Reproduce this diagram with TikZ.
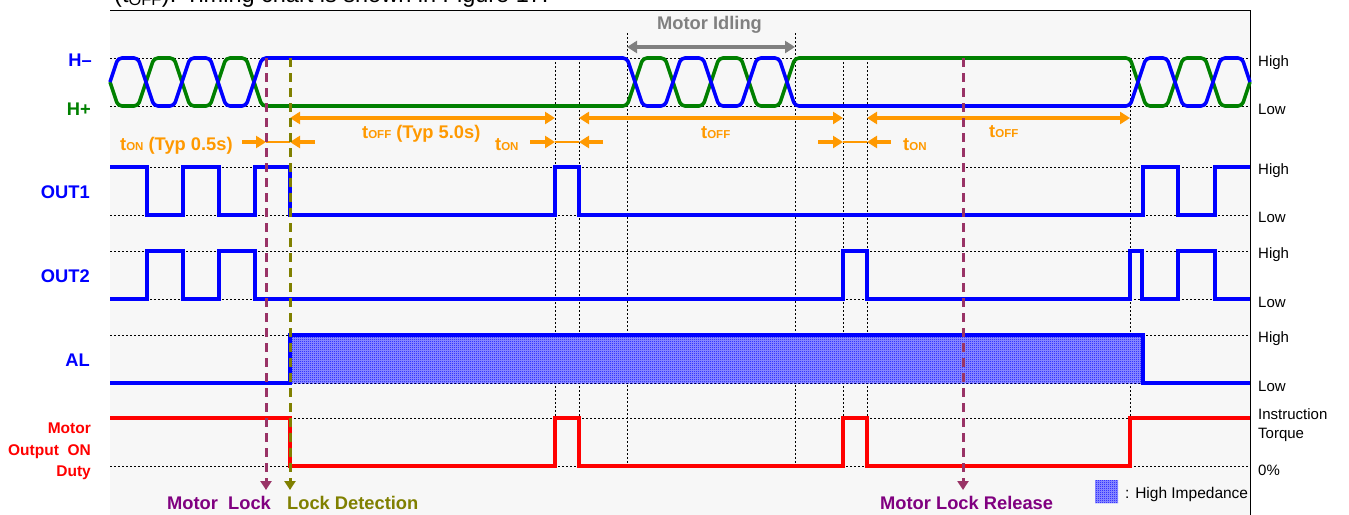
\documentclass[tikz,border=0pt]{standalone}
\usepackage{fontspec}
\setmainfont{Liberation Sans}
\usetikzlibrary{arrows.meta,patterns}
\definecolor{hallgreen}{RGB}{0,128,0}
\definecolor{tcol}{RGB}{255,153,0}
\definecolor{lockcol}{RGB}{153,51,102}
\definecolor{locktxt}{RGB}{128,0,128}
\definecolor{detcol}{RGB}{128,128,0}
\definecolor{idlecol}{RGB}{128,128,128}
\definecolor{panel}{RGB}{247,247,247}
% fine checker for the high impedance fill
\pgfdeclarepatternformonly{hiz}{\pgfpointorigin}{\pgfqpoint{2pt}{2pt}}{\pgfqpoint{2pt}{2pt}}{%
  \pgfpathrectangle{\pgfpointorigin}{\pgfqpoint{1pt}{1pt}}%
  \pgfpathrectangle{\pgfqpoint{1pt}{1pt}}{\pgfqpoint{1pt}{1pt}}%
  \pgfusepath{fill}}
\newcommand\tlab[1]{t{\fontsize{11.5}{11.5}\selectfont #1}}
\begin{document}
\begin{tikzpicture}[x=1pt,y=-1pt, every node/.style={inner sep=0pt,font=\bfseries\fontsize{18.3}{21.5}\selectfont}]
\tikzset{gridln/.style={black,line width=0.8pt,dash pattern=on 2.4pt off 1.6pt},
  sig/.style={line width=3.6pt},
  lvl/.style={anchor=base west,font=\fontsize{15}{19}\selectfont},
  hizfill/.style={fill=blue!40,postaction={pattern=hiz,pattern color=blue}},
  tline/.style={tcol,line width=4pt},
  tboth/.style={tline,{Triangle[length=10pt,width=12pt]}-{Triangle[length=10pt,width=12pt]}},
  tin/.style={tline,-{Triangle[length=10pt,width=12pt]}},
  lockln/.style={line width=3pt,dash pattern=on 9pt off 6pt,-{Triangle[length=9pt,width=11pt]}}}
\useasboundingbox (0,0) rectangle (1349,514);
\fill[panel] (110,10) rectangle (1250,520);
\draw[line width=0.9pt] (110,10) -- (1250,10) -- (1250,520);
\node[anchor=base west,font=\fontsize{23.5}{23.5}\selectfont] (caption) at (114,2) {(t\textsubscript{OFF}). Timing chart is shown in Figure 17.};
% time marks
\coordinate (lock) at (266,0);
\coordinate (det) at (290,0);
\coordinate (on1) at (555,0);
\coordinate (off1) at (579,0);
\coordinate (idA) at (627,0);
\coordinate (idB) at (795,0);
\coordinate (on2) at (843,0);
\coordinate (off2) at (867,0);
\coordinate (rel) at (963,0);
\coordinate (on3) at (1130,0);
% grid
\foreach \y in {58,106,167,215,251,299,335,383,418,466}
  \draw[gridln] (110,\y) -- (1250,\y);
\foreach \x in {555,579,843,867,1130}
  \draw[gridln] (\x,58) -- (\x,418);
\foreach \x in {627,795}
  \draw[gridln] (\x,33) -- (\x,466);
% hall signals
\draw[sig,hallgreen,rounded corners=4pt] (110,82) -- (118,106) -- (138,106) -- (154,58) -- (174,58) -- (190,106) -- (210,106) -- (226,58) -- (246,58) -- (262,106) -- (627,106) -- (643,58) -- (665,58) -- (681,106) -- (703,106) -- (719,58) -- (741,58) -- (757,106) -- (779,106) -- (795,58) -- (1130,58) -- (1146,106) -- (1167,106) -- (1183,58) -- (1205,58) -- (1221,106) -- (1242,106) -- (1250,82);
\draw[sig,blue,rounded corners=4pt] (110,82) -- (118,58) -- (138,58) -- (154,106) -- (174,106) -- (190,58) -- (210,58) -- (226,106) -- (246,106) -- (262,58) -- (627,58) -- (643,106) -- (665,106) -- (681,58) -- (703,58) -- (719,106) -- (741,106) -- (757,58) -- (779,58) -- (795,106) -- (1130,106) -- (1146,58) -- (1167,58) -- (1183,106) -- (1205,106) -- (1221,58) -- (1242,58) -- (1250,82);
\node[text=idlecol,anchor=base west] (idling) at (657,29) {Motor Idling};
\draw[idlecol,line width=4pt,{Triangle[length=10pt,width=12pt]}-{Triangle[length=10pt,width=12pt]}] (idA |- 0,47) -- (idB |- 0,47);
% on / off times
\draw[tboth] (det |- 0,118) -- (on1 |- 0,118);
\draw[tboth] (off1 |- 0,118) -- (on2 |- 0,118);
\draw[tboth] (off2 |- 0,118) -- (on3 |- 0,118);
\draw[tin] (242,142) -- (lock |- 0,142);
\draw[tcol,line width=1.6pt] (lock |- 0,142) -- (det |- 0,142);
\draw[tin] (315,142) -- (det |- 0,142);
\draw[tin] (530,142) -- (on1 |- 0,142);
\draw[tcol,line width=1.6pt] (on1 |- 0,142) -- (off1 |- 0,142);
\draw[tin] (603,142) -- (off1 |- 0,142);
\draw[tin] (818,142) -- (on2 |- 0,142);
\draw[tcol,line width=1.6pt] (on2 |- 0,142) -- (off2 |- 0,142);
\draw[tin] (891,142) -- (off2 |- 0,142);
\node[text=tcol,anchor=base west] (ton1) at (120,150) {\tlab{ON} (Typ 0.5s)};
\node[text=tcol,anchor=base west] (toff1) at (362,138) {\tlab{OFF} (Typ 5.0s)};
\node[text=tcol,anchor=base west] (ton2) at (495,150) {\tlab{ON}};
\node[text=tcol,anchor=base west] (toff2) at (701,138) {\tlab{OFF}};
\node[text=tcol,anchor=base west] (ton3) at (903,150) {\tlab{ON}};
\node[text=tcol,anchor=base west] (toff3) at (989,137) {\tlab{OFF}};
% outputs
\draw[sig,blue] (110,167) -| (147,215) -| (183,167) -| (219,215) -| (255,167) -| (290,215) -| (555,167) -| (579,215) -| (1143,167) -| (1178,215) -| (1215,167) -- (1250,167);
\draw[sig,blue] (110,299) -| (147,251) -| (183,299) -| (219,251) -| (255,299) -| (843,251) -| (867,299) -| (1130,251) -| (1142,299) -| (1178,251) -| (1215,299) -- (1250,299);
\path[hizfill] (290,335) rectangle (1143,383);
\draw[sig,blue] (110,383) -| (290,335) -| (1143,383) -- (1250,383);
\draw[sig,red] (110,418) -| (290,466) -| (555,418) -| (579,466) -| (843,418) -| (867,466) -| (1130,418) -- (1250,418);
% signal names
\node[text=blue,anchor=base east] (hm) at (92,66) {H--};
\node[text=hallgreen,anchor=base east] (hp) at (91,115) {H+};
\node[text=blue,anchor=base east] (out1) at (90,198) {OUT1};
\node[text=blue,anchor=base east] (out2) at (90,282) {OUT2};
\node[text=blue,anchor=base east] (al) at (90,366) {AL};
\node[text=red,align=right,anchor=east,font=\bfseries\fontsize{15.5}{21.5}\selectfont] (duty) at (91,451.5) {Motor\\Output\ \ ON\\Duty};
% levels
\foreach \y/\t [count=\i] in {66.5/High,114/Low,174/High,222/Low,258/High,307/Low,342/High,391/Low,475/0\%}
  \node[lvl] (lv\i) at (1258,\y) {\t};
\node[lvl,anchor=west,align=left] (torque) at (1258,425.5) {Instruction\\Torque};
% lock marks
\draw[lockln,lockcol] (lock |- 0,58) -- (lock |- 0,490);
\draw[lockln,detcol] (det |- 0,58) -- (det |- 0,490);
\draw[lockln,lockcol] (rel |- 0,58) -- (rel |- 0,490);
\node[text=locktxt,anchor=base west] (mlock) at (167,509) {Motor\ \ Lock};
\node[text=detcol,anchor=base west] (ldet) at (287,509) {Lock Detection};
\node[text=locktxt,anchor=base west] (mrel) at (880,509) {Motor Lock Release};
% legend
\path[hizfill] (1095,480) rectangle (1118,503);
\node[lvl,font=\fontsize{15.5}{19}\selectfont] (legend) at (1125,498) {: High Impedance};
\end{tikzpicture}
\end{document}
